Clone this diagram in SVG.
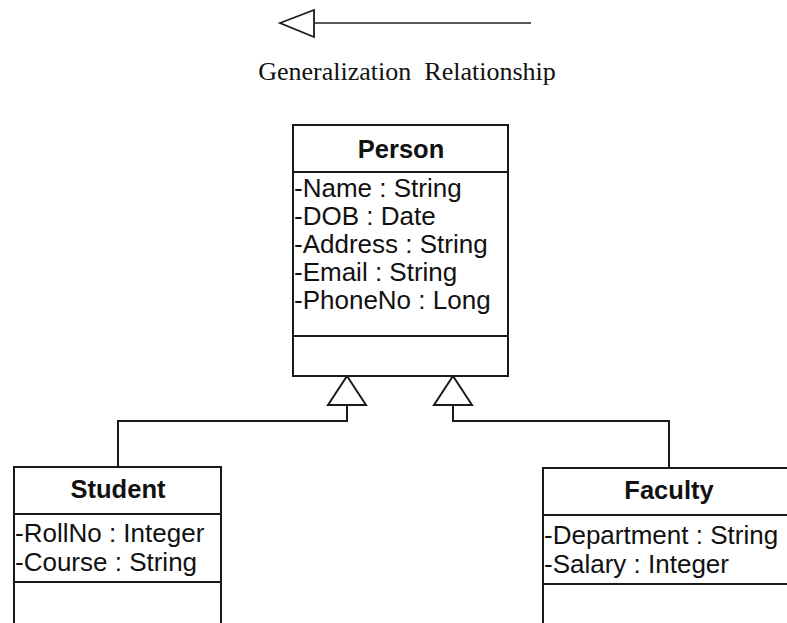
<svg xmlns="http://www.w3.org/2000/svg" width="787" height="623" viewBox="0 0 787 623">
<style>
.box{fill:#fff;stroke:#1a1a1a;stroke-width:2}
.div{stroke:#1a1a1a;stroke-width:2}
.title{font-family:"Liberation Sans",Arial,sans-serif;font-weight:bold;font-size:25.5px;fill:#111;text-anchor:middle}
.attr{font-family:"Liberation Sans",Arial,sans-serif;font-size:26px;fill:#111}
.conn{fill:none;stroke:#1a1a1a;stroke-width:2}
.tri{fill:#fff;stroke:#1a1a1a;stroke-width:2;stroke-linejoin:miter}
.cap{font-family:"Liberation Serif","Times New Roman",serif;font-size:26px;fill:#111;text-anchor:middle}
</style>
<rect width="787" height="623" fill="#fff"/>
<g id="legend">
<polygon class="tri" points="280,23 314,10 314,37" style="stroke-width:1.8"/>
<line x1="314" y1="23" x2="531" y2="23" stroke="#222" stroke-width="1.5"/>
<text class="cap" x="407" y="80" xml:space="preserve">Generalization  Relationship</text>
</g>
<g id="connectors">
<path class="conn" d="M118,467 V421 H347 V405"/>
<polygon class="tri" points="347,376 328,405 366,405"/>
<path class="conn" d="M669,468 V421 H453 V405"/>
<polygon class="tri" points="453,376 434,405 472,405"/>
</g>
<g id="person">
<rect class="box" x="293" y="125" width="215" height="251"/>
<line class="div" x1="293" y1="172" x2="508" y2="172"/>
<line class="div" x1="293" y1="336" x2="508" y2="336"/>
<text class="title" x="401" y="158">Person</text>
<text class="attr" x="294" y="197">-Name : String</text>
<text class="attr" x="294" y="225">-DOB : Date</text>
<text class="attr" x="294" y="253">-Address : String</text>
<text class="attr" x="294" y="281">-Email : String</text>
<text class="attr" x="294" y="309">-PhoneNo : Long</text>
</g>
<g id="student">
<rect class="box" x="14" y="467" width="207" height="170"/>
<line class="div" x1="14" y1="514" x2="221" y2="514"/>
<line class="div" x1="14" y1="582" x2="221" y2="582"/>
<text class="title" x="118" y="498">Student</text>
<text class="attr" x="15" y="542">-RollNo : Integer</text>
<text class="attr" x="15" y="571">-Course : String</text>
</g>
<g id="faculty">
<rect class="box" x="543" y="468" width="260" height="170"/>
<line class="div" x1="543" y1="515" x2="803" y2="515"/>
<line class="div" x1="543" y1="584" x2="803" y2="584"/>
<text class="title" x="669" y="499">Faculty</text>
<text class="attr" x="544" y="544">-Department : String</text>
<text class="attr" x="544" y="573">-Salary : Integer</text>
</g>
</svg>
